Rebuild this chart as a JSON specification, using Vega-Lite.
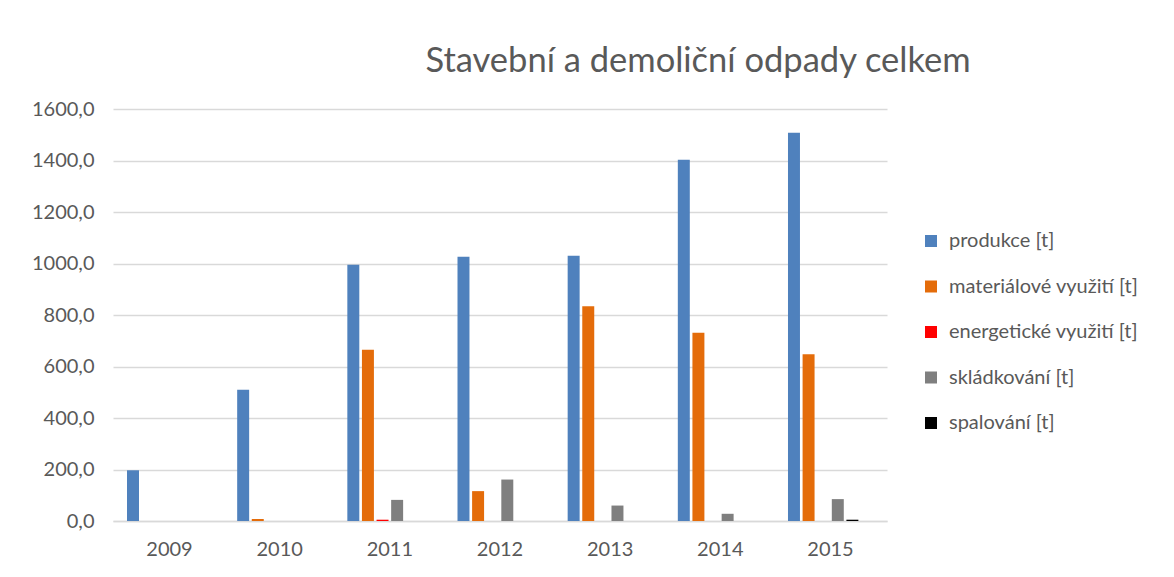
{
  "$schema": "https://vega.github.io/schema/vega-lite/v6.json",
  "width": 774,
  "height": 412,
  "autosize": "none",
  "padding": {"left": 113, "top": 109, "right": 287, "bottom": 56},
  "background": "white",
  "title": {
    "text": "Stavební a demoliční odpady celkem",
    "anchor": "middle",
    "dx": 198,
    "offset": 20,
    "font": "Lato",
    "fontSize": 34.5,
    "fontWeight": "normal",
    "color": "#595959"
  },
  "data": {
    "values": [
      {"rok": "2009", "typ": "produkce [t]", "hodnota": 197},
      {"rok": "2010", "typ": "produkce [t]", "hodnota": 510},
      {"rok": "2010", "typ": "materiálové využití [t]", "hodnota": 8},
      {"rok": "2011", "typ": "produkce [t]", "hodnota": 995},
      {"rok": "2011", "typ": "materiálové využití [t]", "hodnota": 665},
      {"rok": "2011", "typ": "energetické využití [t]", "hodnota": 5},
      {"rok": "2011", "typ": "skládkování [t]", "hodnota": 82},
      {"rok": "2012", "typ": "produkce [t]", "hodnota": 1026},
      {"rok": "2012", "typ": "materiálové využití [t]", "hodnota": 116},
      {"rok": "2012", "typ": "skládkování [t]", "hodnota": 161},
      {"rok": "2013", "typ": "produkce [t]", "hodnota": 1030},
      {"rok": "2013", "typ": "materiálové využití [t]", "hodnota": 834},
      {"rok": "2013", "typ": "skládkování [t]", "hodnota": 60},
      {"rok": "2014", "typ": "produkce [t]", "hodnota": 1403},
      {"rok": "2014", "typ": "materiálové využití [t]", "hodnota": 731},
      {"rok": "2014", "typ": "skládkování [t]", "hodnota": 28},
      {"rok": "2015", "typ": "produkce [t]", "hodnota": 1508},
      {"rok": "2015", "typ": "materiálové využití [t]", "hodnota": 648},
      {"rok": "2015", "typ": "skládkování [t]", "hodnota": 85},
      {"rok": "2015", "typ": "spalování [t]", "hodnota": 5}
    ]
  },
  "mark": {"type": "bar"},
  "encoding": {
    "x": {
      "field": "rok",
      "type": "nominal",
      "scale": {"paddingInner": 0.2, "paddingOuter": 0.113},
      "axis": {
        "title": null,
        "labelAngle": 0,
        "labelFont": "Lato",
        "labelFontSize": 20,
        "labelColor": "#595959",
        "labelPadding": 18,
        "ticks": false,
        "domainColor": "#d9d9d9",
        "domainWidth": 1.5,
        "grid": false
      }
    },
    "xOffset": {
      "field": "typ",
      "type": "nominal",
      "scale": {
        "domain": ["produkce [t]", "materiálové využití [t]", "energetické využití [t]", "skládkování [t]", "spalování [t]", " "],
        "paddingInner": 0.18,
        "paddingOuter": 0.107
      }
    },
    "y": {
      "field": "hodnota",
      "type": "quantitative",
      "scale": {"domain": [0, 1600], "nice": false},
      "axis": {
        "title": null,
        "values": [0, 200, 400, 600, 800, 1000, 1200, 1400, 1600],
        "labelExpr": "replace(format(datum.value, '.1f'), '.', ',')",
        "labelFont": "Lato",
        "labelFontSize": 20,
        "labelColor": "#595959",
        "labelPadding": 19,
        "ticks": false,
        "domain": false,
        "gridColor": "#d9d9d9",
        "gridWidth": 1.3
      }
    },
    "color": {
      "field": "typ",
      "type": "nominal",
      "scale": {
        "domain": ["produkce [t]", "materiálové využití [t]", "energetické využití [t]", "skládkování [t]", "spalování [t]"],
        "range": ["#4f81bd", "#e46c0a", "#ff0000", "#7f7f7f", "#000000"]
      },
      "legend": {
        "title": null,
        "orient": "none",
        "legendX": 808,
        "legendY": 122,
        "symbolType": "square",
        "symbolSize": 144,
        "symbolStrokeWidth": 0,
        "labelFont": "Lato",
        "labelFontSize": 20,
        "labelColor": "#595959",
        "labelOffset": 8,
        "labelLimit": 400,
        "rowPadding": 25.5
      }
    }
  },
  "config": {
    "view": {"stroke": null}
  }
}
